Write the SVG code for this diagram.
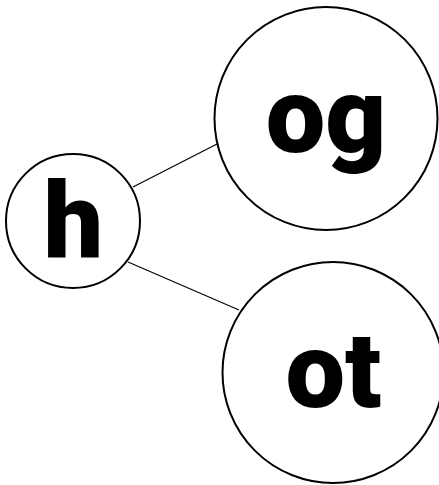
<svg xmlns="http://www.w3.org/2000/svg" width="439" height="485" viewBox="0 0 439 485">
<style>
.node{fill:#fff;stroke:#000;stroke-width:2}
.lbl{font-family:Roboto,"Noto Sans",sans-serif;font-weight:900;font-size:106px;fill:#000;text-anchor:middle}
.edge{stroke:#000;stroke-width:1.2;fill:none}
</style>
<rect width="439" height="485" fill="#fff"/>
<g id="connectors">
<line class="edge" x1="133" y1="187" x2="217" y2="144"/>
<line class="edge" x1="128" y1="262" x2="239" y2="310"/>
</g>
<g id="node-h">
<circle class="node" cx="73" cy="221" r="67"/>
<text class="lbl" x="73.5" y="257">h</text>
</g>
<g id="node-og">
<circle class="node" cx="326" cy="118.5" r="111.5"/>
<text class="lbl" x="326" y="152">og</text>
</g>
<g id="node-ot">
<circle class="node" cx="333" cy="372.5" r="110.5"/>
<text class="lbl" x="333.5" y="407">ot</text>
</g>
</svg>
